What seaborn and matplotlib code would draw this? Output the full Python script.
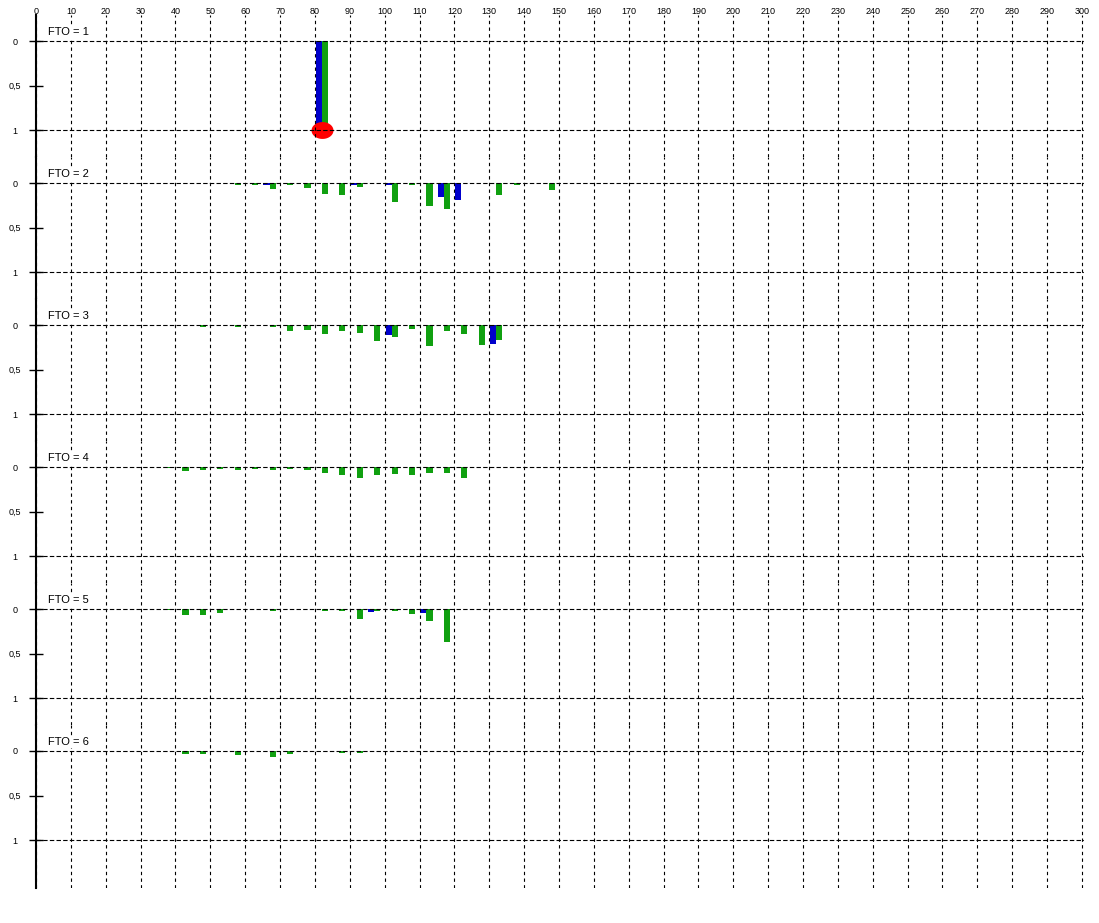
import numpy as np
import pandas as pd
import matplotlib
matplotlib.use('Agg')
import matplotlib.pyplot as plt
import seaborn as sns

plt.rcParams['font.family'] = ['Liberation Sans Narrow', 'Liberation Sans', 'DejaVu Sans']

# data: x position, blue series, green series per FTO panel
fto1_x = [82]
fto1_blue = [1.0]
fto1_green = [1.0]

fto2_x = [57, 62, 67, 72, 77, 82, 87, 92, 102, 107, 112, 117, 122, 132, 137, 147]
fto2_blue = [0, 0, 0.02, 0, 0, 0, 0, 0.025, 0.025, 0, 0, 0.157, 0.195, 0, 0, 0]
fto2_green = [0.02, 0.025, 0.064, 0.02, 0.06, 0.12, 0.13, 0.04, 0.21, 0.02, 0.26, 0.29, 0, 0.14, 0.02, 0.08]

fto3_x = [47, 57, 67, 72, 77, 82, 87, 92, 97, 102, 107, 112, 117, 122, 127, 132]
fto3_blue = [0, 0, 0, 0, 0, 0, 0, 0, 0, 0.11, 0, 0, 0, 0, 0, 0.21]
fto3_green = [0.02, 0.025, 0.025, 0.07, 0.056, 0.10, 0.064, 0.09, 0.176, 0.14, 0.045, 0.24, 0.064, 0.10, 0.23, 0.165]

fto4_x = [37, 42, 47, 52, 57, 62, 67, 72, 77, 82, 87, 92, 97, 102, 107, 112, 117, 122]
fto4_blue = [0] * 18
fto4_green = [0.015, 0.045, 0.037, 0.025, 0.03, 0.025, 0.03, 0.02, 0.03, 0.07, 0.086, 0.124, 0.094, 0.082, 0.094, 0.067, 0.067, 0.12]

fto5_x = [37, 42, 47, 52, 67, 82, 87, 92, 97, 102, 107, 112, 117]
fto5_blue = [0, 0, 0, 0, 0, 0, 0, 0, 0.03, 0, 0, 0.05, 0]
fto5_green = [0.015, 0.064, 0.064, 0.045, 0.026, 0.026, 0.022, 0.112, 0.022, 0.02, 0.056, 0.13, 0.37]

fto6_x = [42, 47, 57, 67, 72, 87, 92]
fto6_blue = [0] * 7
fto6_green = [0.03, 0.03, 0.04, 0.067, 0.037, 0.018, 0.018]

# red marker in the first panel
marker_x = [82]
marker_y = [1.0]

panels = [
    (1, fto1_x, fto1_blue, fto1_green),
    (2, fto2_x, fto2_blue, fto2_green),
    (3, fto3_x, fto3_blue, fto3_green),
    (4, fto4_x, fto4_blue, fto4_green),
    (5, fto5_x, fto5_blue, fto5_green),
    (6, fto6_x, fto6_blue, fto6_green),
]

colors = {'blue': '#0000cc', 'green': '#10a010'}

fig = plt.figure(figsize=(10.99, 9.23), dpi=100)
W, H = 1099, 923
gs = fig.add_gridspec(6, 1, left=36 / W, right=1083.7 / W, top=1 - 15 / H, bottom=1 - 888 / H,
                      hspace=0, height_ratios=[142] * 5 + [163])

hdash = (0, (4, 2))
vdash = (0, (3, 3))
for i, (fto, xs, blue, green) in enumerate(panels):
    ax = fig.add_subplot(gs[i])
    df = pd.DataFrame({'x': xs, 'blue': blue, 'green': green})
    df = df.melt(id_vars='x', var_name='series', value_name='value')
    step = np.diff(np.unique(xs)).min() if len(xs) > 1 else 1
    sns.barplot(data=df, x='x', y='value', hue='series', hue_order=['blue', 'green'],
                palette=colors, saturation=1, native_scale=True, width=3.5 / step, dodge=True,
                errorbar=None, legend=False, linewidth=0, ax=ax, zorder=1)
    if fto == 1:
        t = np.linspace(0, 2 * np.pi, 60)
        ellipse = np.column_stack([1.3 * np.cos(t), np.sin(t)])
        sns.scatterplot(x=marker_x, y=marker_y, marker=ellipse, s=250, color='#ff0000',
                        edgecolor='#ff0000', linewidth=0, ax=ax, zorder=2, legend=False)

    bottom = 1.303 if i < 5 else (163 - 26) / 89
    ax.set_ylim(bottom, -26 / 89)
    ax.set_xlim(0, 300.5)
    ax.set_xticks(range(0, 301, 10))
    ax.set_yticks([0, 0.5, 1])
    ax.set_yticklabels(['0', '0,5', '1'])
    for lab in ax.get_yticklabels():
        lab.set_horizontalalignment('center')
    ax.tick_params(axis='y', direction='inout', length=10, width=1, pad=10, labelsize=6.5)
    ax.xaxis.tick_top()
    ax.tick_params(axis='x', length=0, pad=-1, labelsize=6.5, labeltop=(i == 0))
    ax.set_xlabel('')
    ax.set_ylabel('')
    for s in ['top', 'right', 'bottom']:
        ax.spines[s].set_visible(False)
    ax.spines['left'].set_linewidth(1.5)

    ax.grid(True, axis='x', color='black', linestyle=vdash, linewidth=0.8)
    ax.set_axisbelow(False)
    ax.axhline(0, color='black', linestyle=hdash, linewidth=0.8, zorder=3)
    ax.axhline(1, color='black', linestyle=hdash, linewidth=0.8, zorder=3)
    ax.text(3.4, -0.04, f'FTO = {fto}', fontsize=8, ha='left', va='bottom', zorder=5,
            bbox=dict(facecolor='white', edgecolor='none', pad=0.5))

fig.savefig('out.png', dpi=100, facecolor='white')
